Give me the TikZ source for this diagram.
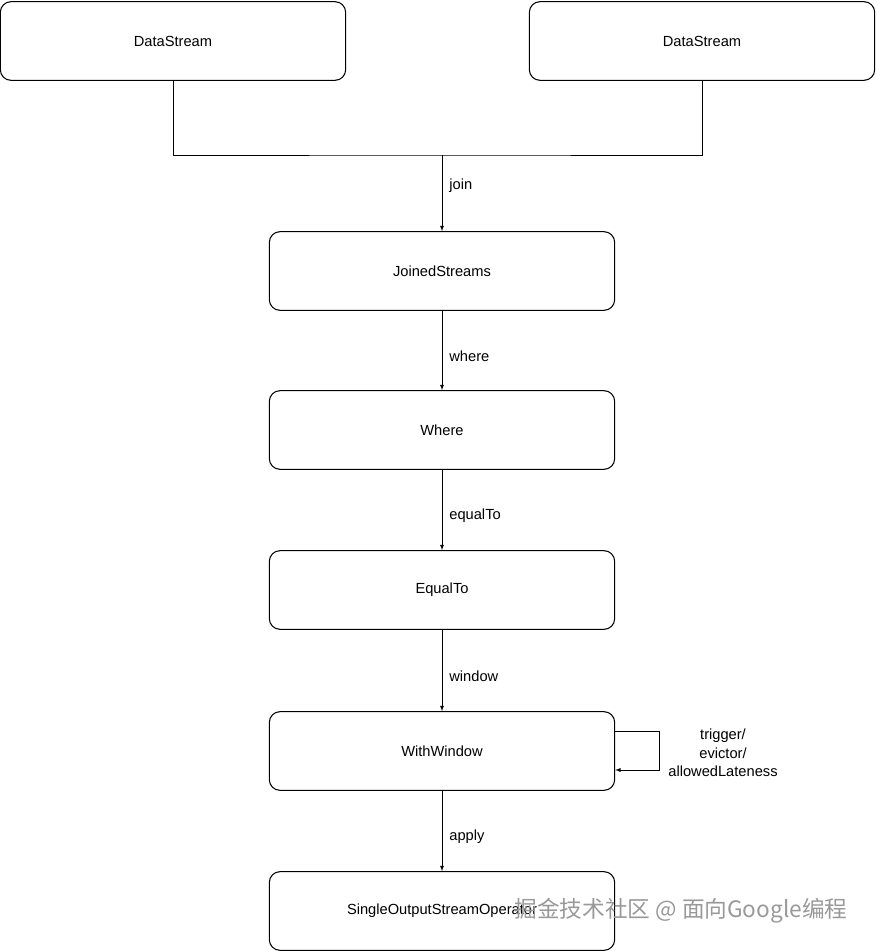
\documentclass[tikz,border=0pt]{standalone}
\usepackage{fontspec}
\setmainfont{Liberation Sans}
\newfontfamily\cjk{Noto Sans CJK SC}
\usetikzlibrary{positioning}
\begin{document}
\begin{tikzpicture}[x=.75pt,y=-.75pt,>=latex,
    opbox/.style={draw,thick,rounded corners=8pt,minimum width=259pt,minimum height=59pt,font=\fontsize{11}{13}\selectfont},
    lbl/.style={right,font=\fontsize{11}{13}\selectfont}]
    \useasboundingbox (0,0) rectangle (876,951);
    \node[opbox] (ds1) at (173,41) {DataStream};
    \node[opbox] (ds2) at (702,41) {DataStream};
    \node[opbox] (join) at (442,271) {JoinedStreams};
    \node[opbox] (where) at (442,430) {Where};
    \node[opbox] (eq) at (442,590) {EqualTo};
    \node[opbox] (win) at (442,751) {WithWindow};
    \node[opbox] (out) at (442,911) {SingleOutputStreamOperator};
    \coordinate (m) at (442,155);
    \draw (ds1.south) |- (m) -| (ds2.south);
    \draw[->] (m) -- (join.north) node[pos=.4,lbl,xshift=2pt]{join};
    \foreach\a/\b/\t in {join/where/where,where/eq/equalTo,eq/win/window,win/out/apply}
    \draw[->] (\a.south) -- (\b.north) node[pos=.57,lbl,xshift=2pt]{\t};
    \coordinate (r1) at (659,731);
    \coordinate (r2) at (659,770);
    \draw[->] (win.east |- r1) -- (r1) -- (r2) -- (win.east |- r2);
    \node[align=center,font=\fontsize{11}{14}\selectfont] (cfg) at (723,753) {trigger/\\evictor/\\allowedLateness};
    \node[text=black!40,font=\cjk\fontsize{17}{19}\selectfont] (wm) at (681,911) {掘金技术社区 @ 面向Google编程};
  \end{tikzpicture}
\end{document}
